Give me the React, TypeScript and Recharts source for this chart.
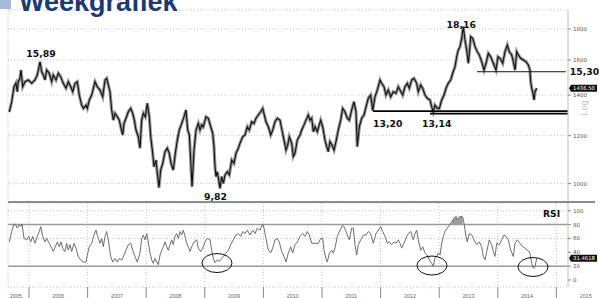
import {
  ComposedChart,
  Line,
  Area,
  XAxis,
  YAxis,
  CartesianGrid,
  ReferenceLine,
  ReferenceDot,
} from "recharts";

// weekly closes (fractional year, price in cents)
const priceWeeks = [
  2005.664, 2005.705, 2005.744, 2005.778, 2005.8, 2005.817, 2005.846, 2005.863, 2005.892, 2005.932,
  2005.988, 2006.046, 2006.102, 2006.142, 2006.188, 2006.217, 2006.244, 2006.273, 2006.302, 2006.346,
  2006.387, 2006.415, 2006.461, 2006.5, 2006.541, 2006.585, 2006.631, 2006.671, 2006.712, 2006.746,
  2006.785, 2006.824, 2006.858, 2006.899, 2006.927, 2006.973, 2006.995, 2007.029, 2007.07, 2007.126,
  2007.166, 2007.212, 2007.258, 2007.297, 2007.326, 2007.353, 2007.382, 2007.411, 2007.439, 2007.468,
  2007.507, 2007.541, 2007.565, 2007.599, 2007.621, 2007.655, 2007.695, 2007.735, 2007.77, 2007.797,
  2007.826, 2007.865, 2007.894, 2007.923, 2007.951, 2007.985, 2008.019, 2008.053, 2008.077, 2008.111,
  2008.133, 2008.167, 2008.189, 2008.218, 2008.247, 2008.282, 2008.321, 2008.36, 2008.394, 2008.423,
  2008.462, 2008.497, 2008.531, 2008.565, 2008.606, 2008.645, 2008.679, 2008.708, 2008.736, 2008.759,
  2008.782, 2008.816, 2008.85, 2008.889, 2008.918, 2008.947, 2008.974, 2009.02, 2009.06, 2009.101,
  2009.135, 2009.157, 2009.174, 2009.191, 2009.213, 2009.237, 2009.259, 2009.288, 2009.316, 2009.345,
  2009.384, 2009.418, 2009.459, 2009.498, 2009.532, 2009.572, 2009.601, 2009.647, 2009.686, 2009.725,
  2009.759, 2009.8, 2009.84, 2009.874, 2009.913, 2009.954, 2009.988, 2010.015, 2010.044, 2010.084,
  2010.125, 2010.159, 2010.198, 2010.237, 2010.283, 2010.317, 2010.352, 2010.386, 2010.415, 2010.442,
  2010.483, 2010.51, 2010.539, 2010.578, 2010.625, 2010.654, 2010.693, 2010.727, 2010.766, 2010.795,
  2010.824, 2010.852, 2010.881, 2010.92, 2010.954, 2010.978, 2011.012, 2011.051, 2011.08, 2011.107,
  2011.137, 2011.171, 2011.205, 2011.239, 2011.278, 2011.319, 2011.353, 2011.392, 2011.432, 2011.466,
  2011.507, 2011.546, 2011.58, 2011.602, 2011.637, 2011.677, 2011.717, 2011.751, 2011.79, 2011.831,
  2011.865, 2011.904, 2011.944, 2011.99, 2012.019, 2012.058, 2012.092, 2012.131, 2012.172, 2012.217,
  2012.263, 2012.302, 2012.331, 2012.377, 2012.416, 2012.456, 2012.49, 2012.531, 2012.57, 2012.616,
  2012.643, 2012.684, 2012.718, 2012.758, 2012.797, 2012.843, 2012.872, 2012.899, 2012.928, 2012.968,
  2013.002, 2013.043, 2013.082, 2013.116, 2013.155, 2013.196, 2013.23, 2013.27, 2013.299, 2013.326,
  2013.355, 2013.384, 2013.411, 2013.44, 2013.469, 2013.497, 2013.514, 2013.538, 2013.572, 2013.611,
  2013.65, 2013.684, 2013.725, 2013.765, 2013.799, 2013.838, 2013.879, 2013.923, 2013.969, 2014.003,
  2014.038, 2014.084, 2014.123, 2014.162, 2014.196, 2014.237, 2014.265, 2014.294, 2014.323, 2014.35,
  2014.391, 2014.435, 2014.481, 2014.521, 2014.549, 2014.561, 2014.579, 2014.606, 2014.618, 2014.635,
  2014.664,
];

const priceClose = [
  1314, 1365, 1445, 1466, 1418, 1473, 1494, 1540, 1445, 1473,
  1483, 1464, 1483, 1511, 1589, 1530, 1511, 1483, 1540, 1521,
  1473, 1511, 1483, 1521, 1501, 1464, 1437, 1473, 1445, 1418,
  1464, 1473, 1400, 1348, 1331, 1348, 1331, 1374, 1400, 1473,
  1445, 1427, 1391, 1483, 1492, 1455, 1418, 1323, 1273, 1306,
  1289, 1273, 1241, 1203, 1257, 1282, 1314, 1331, 1306, 1273,
  1226, 1195, 1144, 1273, 1306, 1289, 1357, 1289, 1195, 1122,
  1066, 1094, 1040, 985, 1053, 1080, 1129, 1144, 1122, 1080,
  1053, 1122, 1180, 1226, 1257, 1289, 1323, 1226, 1203, 1094,
  988, 1136, 1226, 1257, 1226, 1250, 1241, 1289, 1282, 1241,
  1211, 1151, 1066, 1027, 1046, 1014, 982, 1027, 1001, 1033,
  1046, 1033, 1094, 1080, 1122, 1144, 1166, 1195, 1203, 1241,
  1226, 1265, 1257, 1282, 1298, 1314, 1331, 1298, 1265, 1241,
  1203, 1226, 1265, 1282, 1273, 1226, 1180, 1136, 1158, 1195,
  1166, 1108, 1122, 1180, 1203, 1226, 1250, 1273, 1298, 1273,
  1282, 1218, 1241, 1218, 1250, 1273, 1241, 1180, 1151, 1129,
  1173, 1158, 1136, 1173, 1226, 1273, 1331, 1314, 1282, 1273,
  1323, 1365, 1314, 1151, 1241, 1282, 1298, 1339, 1383, 1400,
  1320, 1391, 1427, 1483, 1464, 1445, 1400, 1427, 1391, 1418,
  1410, 1445, 1427, 1400, 1445, 1464, 1437, 1483, 1492, 1464,
  1418, 1455, 1437, 1400, 1383, 1374, 1339, 1314, 1348, 1331,
  1331, 1374, 1400, 1437, 1464, 1483, 1521, 1560, 1620, 1662,
  1683, 1737, 1816, 1726, 1662, 1580, 1641, 1748, 1737, 1683,
  1651, 1631, 1590, 1540, 1580, 1641, 1620, 1580, 1540, 1620,
  1610, 1580, 1651, 1694, 1651, 1631, 1590, 1540, 1651, 1631,
  1610, 1600, 1590, 1570, 1540, 1473, 1437, 1400, 1374, 1418,
  1436.5,
];

const rsiWeeks = [
  2005.664, 2005.705, 2005.744, 2005.778, 2005.8, 2005.834, 2005.858, 2005.881, 2005.915, 2005.961,
  2005.995, 2006.029, 2006.063, 2006.102, 2006.142, 2006.176, 2006.2, 2006.234, 2006.273, 2006.302,
  2006.346, 2006.387, 2006.415, 2006.449, 2006.483, 2006.517, 2006.546, 2006.575, 2006.614, 2006.643,
  2006.671, 2006.7, 2006.729, 2006.768, 2006.802, 2006.841, 2006.882, 2006.927, 2006.973, 2006.995,
  2007.029, 2007.07, 2007.109, 2007.143, 2007.172, 2007.212, 2007.241, 2007.268, 2007.297, 2007.326,
  2007.353, 2007.394, 2007.428, 2007.468, 2007.507, 2007.541, 2007.582, 2007.621, 2007.655, 2007.695,
  2007.735, 2007.77, 2007.809, 2007.848, 2007.894, 2007.923, 2007.951, 2007.98, 2008.009, 2008.036,
  2008.065, 2008.094, 2008.121, 2008.15, 2008.179, 2008.207, 2008.236, 2008.265, 2008.292, 2008.321,
  2008.35, 2008.377, 2008.406, 2008.435, 2008.462, 2008.491, 2008.52, 2008.548, 2008.577, 2008.606,
  2008.633, 2008.662, 2008.691, 2008.718, 2008.747, 2008.776, 2008.816, 2008.862, 2008.889, 2008.93,
  2008.974, 2009.003, 2009.043, 2009.089, 2009.118, 2009.145, 2009.174, 2009.213, 2009.247, 2009.288,
  2009.316, 2009.362, 2009.401, 2009.442, 2009.486, 2009.532, 2009.572, 2009.613, 2009.647, 2009.686,
  2009.725, 2009.771, 2009.817, 2009.857, 2009.896, 2009.942, 2009.988, 2010.01, 2010.044, 2010.084,
  2010.125, 2010.159, 2010.198, 2010.237, 2010.271, 2010.312, 2010.352, 2010.386, 2010.425, 2010.466,
  2010.5, 2010.539, 2010.579, 2010.625,
  2010.671, 2010.71, 2010.749, 2010.783, 2010.824, 2010.881, 2010.937, 2010.978, 2011.012, 2011.034,
  2011.068, 2011.091, 2011.125, 2011.166, 2011.193, 2011.227, 2011.261, 2011.307, 2011.353, 2011.375,
  2011.41, 2011.432, 2011.466, 2011.507, 2011.534, 2011.563, 2011.592, 2011.62, 2011.66, 2011.705,
  2011.751, 2011.79, 2011.831, 2011.875, 2011.922, 2011.961, 2012.002, 2012.036, 2012.075, 2012.114,
  2012.148, 2012.189, 2012.229, 2012.263, 2012.302, 2012.331, 2012.36, 2012.399, 2012.445, 2012.473,
  2012.514, 2012.558, 2012.587, 2012.616, 2012.643, 2012.684, 2012.718, 2012.758, 2012.797, 2012.831,
  2012.872, 2012.899, 2012.928, 2012.957, 2012.985, 2013.014, 2013.043, 2013.07, 2013.099, 2013.138,
  2013.172, 2013.213, 2013.253, 2013.287, 2013.309, 2013.343, 2013.372, 2013.401, 2013.423, 2013.457,
  2013.479, 2013.514, 2013.555, 2013.594, 2013.64, 2013.684, 2013.725, 2013.753, 2013.782, 2013.811,
  2013.855, 2013.896, 2013.923, 2013.952, 2013.981, 2014.026, 2014.067, 2014.106, 2014.14, 2014.179,
  2014.22, 2014.265, 2014.294, 2014.333, 2014.379, 2014.425, 2014.464, 2014.503, 2014.549, 2014.579,
  2014.606, 2014.635, 2014.664,
];

const rsiValues = [
  55, 70, 81, 79, 75, 80, 77, 81, 60, 58,
  63, 55, 63, 53, 63, 70, 77, 63, 55, 60,
  53, 46, 41, 48, 55, 48, 55, 46, 41, 53,
  43, 51, 41, 53, 46, 34, 29, 26, 26, 36,
  48, 53, 65, 72, 63, 53, 60, 48, 63, 70,
  58, 34, 26, 31, 26, 31, 29, 36, 43, 51,
  53, 43, 34, 26, 39, 60, 65, 58, 67, 55,
  39, 29, 24, 31, 26, 22, 36, 43, 48, 55,
  48, 43, 51, 58, 51, 63, 67, 60, 70, 65,
  72, 63, 53, 48, 41, 48, 55, 58, 46, 41,
  48, 55, 60, 58, 43, 31, 25, 29, 27, 31,
  34, 39, 43, 51, 58, 65, 67, 63, 70, 67,
  72, 65, 72, 67, 75, 72, 81, 75, 60, 43,
  39, 46, 58, 60, 55, 41, 34, 26, 39, 48,
  39, 51, 55, 63,
  67, 63, 70, 65, 53, 53, 53, 60, 60, 43,
  31, 26, 39, 43, 39, 48, 63, 72, 79, 77,
  70, 65, 58, 75, 75, 51, 36, 51, 58, 65,
  65, 70, 67, 53, 67, 72, 77, 70, 63, 53,
  55, 51, 55, 53, 58, 53, 46, 53, 63, 67,
  70, 58, 67, 72, 58, 43, 48, 39, 36, 29,
  24, 20, 31, 34, 39, 36, 53, 63, 70, 75,
  79, 84, 89, 92, 87, 91, 92, 91, 82, 63,
  55, 67, 65, 58, 51, 55, 48, 34, 29, 41,
  58, 51, 41, 34, 53, 51, 58, 65, 63, 58,
  43, 34, 53, 58, 53, 48, 46, 43, 39, 24,
  17, 19, 31.4618,
];

const yearStarts = [2005, 2006, 2007, 2008, 2009, 2010, 2011, 2012, 2013, 2014, 2015];
const priceTicks = [1000, 1200, 1400, 1600, 1800];
const rsiTicks = [0, 20, 40, 60, 80, 100];

const lastPrice = 1436.5;
const lastRsi = 31.4618;

const supportLines = [
  { from: 2011.87, to: 2015.198, value: 1317 },
  { from: 2012.843, to: 2015.198, value: 1305 },
];
const resistanceLine = { from: 2013.645, to: 2015.16, value: 1530 };

const priceNotes = [
  { id: "high2006", text: "15,89", t: 2006.188, v: 1589 },
  { id: "high2013", text: "18,16", t: 2013.411, v: 1816 },
  { id: "low2009", text: "9,82", t: 2009.259, v: 982 },
  { id: "sup1", text: "13,20", t: 2011.87, v: 1317 },
  { id: "sup2", text: "13,14", t: 2012.843, v: 1305 },
  { id: "res", text: "15,30", t: 2015.16, v: 1530 },
];

const rsiLows = [
  { t: 2009.208, v: 24.5 },
  { t: 2012.877, v: 20.9 },
  { t: 2014.601, v: 18.8 },
];

const X_DOMAIN = [2005.6416, 2015.198];

const noteLayout: Record<string, { dx: number; dy: number; anchor: "start" | "middle" }> = {
  high2006: { dx: 1, dy: -5, anchor: "middle" },
  high2013: { dx: -2, dy: 1.5, anchor: "middle" },
  low2009: { dx: -4.5, dy: 11.5, anchor: "middle" },
  sup1: { dx: 0, dy: 15.5, anchor: "start" },
  sup2: { dx: -8, dy: 13.5, anchor: "start" },
  res: { dx: 4, dy: 3.5, anchor: "start" },
};

const priceData = priceWeeks.map((t, i) => ({ t, close: priceClose[i] }));
const rsiData = rsiWeeks.map((t, i) => ({
  t,
  rsi: rsiValues[i],
  hot: rsiValues[i] > 82 ? [80, rsiValues[i]] : null,
}));

const tickFont = { fontSize: 5.5, fill: "#555", fontFamily: "DejaVu Sans" };
const noteFont = "DejaVu Sans";

function YearTick({ x, payload }: any) {
  const cx = Math.min(Math.max(x + 29.3, 16), 594);
  return (
    <text x={cx} y={96} textAnchor="middle" fontSize={5.4} fill="#666" fontFamily="Liberation Sans">
      {payload.value}
    </text>
  );
}

function ValueBox({ cx, cy, text }: { cx: number; cy: number; text: string }) {
  return (
    <g>
      <path d={`M${cx + 1},${cy} L${cx + 3},${cy - 3.5} L${cx + 29},${cy - 3.5} L${cx + 29},${cy + 3.5} L${cx + 3},${cy + 3.5} Z`} fill="#111" />
      <text x={cx + 16} y={cy + 2} textAnchor="middle" fontSize={5.3} fill="#fff" fontFamily="DejaVu Sans">
        {text}
      </text>
    </g>
  );
}

export default function App() {
  return (
    <div style={{ position: "absolute", left: 0, top: 0, width: 599, height: 298, background: "#fff", overflow: "hidden" }}>
      <div style={{ position: "absolute", left: 0, top: 0 }}>
        <ComposedChart width={599} height={202} data={priceData} margin={{ top: 10, right: 0, bottom: 0, left: 8 }}>
          <CartesianGrid stroke="#c6c6c6" strokeDasharray="1 2" />
          <XAxis
            type="number"
            dataKey="t"
            domain={X_DOMAIN}
            allowDataOverflow
            ticks={yearStarts}
            height={0}
            tick={false}
            tickLine={false}
            axisLine={false}
          />
          <YAxis
            orientation="right"
            scale="log"
            domain={[932.4, 1934.8]}
            allowDataOverflow
            ticks={priceTicks}
            width={31}
            tick={tickFont}
            tickSize={3}
            tickLine={{ stroke: "#888" }}
            axisLine={{ stroke: "#c8c8c8" }}
          />
          <Line type="linear" dataKey="close" stroke="#555" strokeOpacity={0.6} strokeWidth={3.2} dot={false} isAnimationActive={false} />
          <Line type="linear" dataKey="close" stroke="#111" strokeWidth={1.1} dot={false} isAnimationActive={false} />
          {supportLines.map((s) => (
            <ReferenceLine
              key={s.value}
              segment={[{ x: s.from, y: s.value }, { x: s.to, y: s.value }]}
              stroke="#000"
              strokeWidth={1.8}
              ifOverflow="visible"
            />
          ))}
          <ReferenceLine
            segment={[{ x: resistanceLine.from, y: resistanceLine.value }, { x: resistanceLine.to, y: resistanceLine.value }]}
            stroke="#111"
            strokeWidth={1}
            ifOverflow="visible"
          />
          {priceNotes.map((n) => {
            const l = noteLayout[n.id];
            return (
              <ReferenceDot
                key={n.id}
                x={n.t}
                y={n.v}
                ifOverflow="visible"
                shape={(p: any) => (
                  <text
                    x={p.cx + l.dx}
                    y={p.cy + l.dy}
                    textAnchor={l.anchor}
                    fontSize={9.3}
                    fontWeight="bold"
                    fill="#111"
                    fontFamily={noteFont}
                  >
                    {n.text}
                  </text>
                )}
              />
            );
          })}
          <ReferenceDot
            x={X_DOMAIN[1]}
            y={lastPrice}
            ifOverflow="visible"
            shape={(p: any) => <ValueBox cx={p.cx} cy={p.cy} text="1436.50" />}
          />
        </ComposedChart>
      </div>

      <div style={{ position: "absolute", left: 0, top: 202 }}>
        <ComposedChart width={599} height={96} data={rsiData} margin={{ top: 1, right: 0, bottom: 0, left: 8 }}>
          <CartesianGrid stroke="#c6c6c6" strokeDasharray="1 2" />
          <XAxis
            type="number"
            dataKey="t"
            domain={X_DOMAIN}
            allowDataOverflow
            ticks={yearStarts}
            interval={0}
            height={11}
            tickSize={11}
            tickLine={{ stroke: "#888" }}
            axisLine={false}
            tick={<YearTick />}
          />
          <YAxis
            orientation="right"
            domain={[-10.1, 111.2]}
            allowDataOverflow
            ticks={rsiTicks}
            width={31}
            tick={tickFont}
            tickSize={3}
            tickLine={{ stroke: "#888" }}
            axisLine={{ stroke: "#c8c8c8" }}
          />
          <ReferenceLine y={80} stroke="#9a9a9a" strokeWidth={1.5} />
          <ReferenceLine y={20} stroke="#9a9a9a" strokeWidth={1.5} />
          <Area type="linear" dataKey="hot" stroke="none" fill="#8a8a8a" fillOpacity={0.85} isAnimationActive={false} />
          <Line type="linear" dataKey="rsi" stroke="#6e6e6e" strokeWidth={1} dot={false} isAnimationActive={false} />
          {rsiLows.map((c) => (
            <ReferenceDot
              key={c.t}
              x={c.t}
              y={c.v}
              ifOverflow="visible"
              shape={(p: any) => <ellipse cx={p.cx} cy={p.cy} rx={15} ry={9.5} fill="none" stroke="#111" strokeWidth={1} />}
            />
          ))}
          <ReferenceDot
            x={X_DOMAIN[1]}
            y={lastRsi}
            ifOverflow="visible"
            shape={(p: any) => <ValueBox cx={p.cx} cy={p.cy} text="31.4618" />}
          />
        </ComposedChart>
      </div>

      <svg width={599} height={298} style={{ position: "absolute", left: 0, top: 0, pointerEvents: "none" }}>
        <rect x={0} y={0} width={11} height={9} fill="#a9bad8" />
        <text x={19} y={11} fontSize={27} fontWeight="bold" fill="#1b3a6e" fontFamily="Liberation Sans">
          Weekgrafiek
        </text>
        <line x1={8} x2={595} y1={202} y2={202} stroke="#8c8c8c" strokeWidth={2} />
        <text x={543} y={217} fontSize={9.2} fontWeight="bold" fill="#111" fontFamily={noteFont}>
          RSI
        </text>
        <text
          x={0}
          y={0}
          transform="translate(587 108) rotate(-90)"
          textAnchor="middle"
          fontSize={9}
          fill="#c4c4c4"
          fontFamily="Liberation Sans"
        >
          Log
        </text>
      </svg>
    </div>
  );
}
